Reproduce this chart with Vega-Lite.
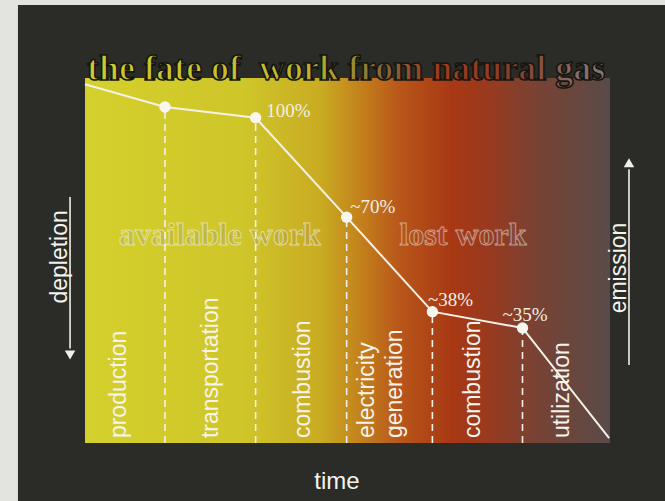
{
  "$schema": "https://vega.github.io/schema/vega-lite/v6.json",
  "width": 525,
  "height": 365,
  "autosize": "none",
  "padding": {"left": 85, "top": 78, "right": 55, "bottom": 58},
  "background": "#2b2b28",
  "config": {"view": {"stroke": null}},
  "datasets": {
    "work": [
      {"t": 0, "w": 110.1, "floor": 0, "node": false, "label": "", "lx": 0, "ly": 0},
      {"t": 0.914, "w": 103.1, "floor": 0, "node": true, "label": "", "lx": 0, "ly": 0},
      {"t": 1.95, "w": 99.8, "floor": 0, "node": true, "label": "100%", "lx": 2.07, "ly": 101.8},
      {"t": 2.99, "w": 69.3, "floor": 0, "node": true, "label": "~70%", "lx": 3.03, "ly": 72.4},
      {"t": 3.97, "w": 40.3, "floor": 0, "node": true, "label": "~38%", "lx": 3.92, "ly": 43.9},
      {"t": 5.0, "w": 35.3, "floor": 0, "node": true, "label": "~35%", "lx": 4.77, "ly": 39.3},
      {"t": 5.99, "w": 1.5, "floor": 0, "node": false, "label": "", "lx": 0, "ly": 0}
    ],
    "stages": [
      {"stage": "production", "lx": 0.389, "ly": 1.5},
      {"stage": "transportation", "lx": 1.44, "ly": 1.5},
      {"stage": "combustion", "lx": 2.49, "ly": 1.5},
      {"stage": "electricity", "lx": 3.22, "ly": 1.5},
      {"stage": "generation", "lx": 3.54, "ly": 1.5},
      {"stage": "combustion", "lx": 4.43, "ly": 1.5},
      {"stage": "utilization", "lx": 5.45, "ly": 1.5}
    ],
    "panels": [
      {"part": "scan", "x0": -1.2, "x1": -0.766, "y0": -30, "y1": 140},
      {"part": "scan", "x0": -1.2, "x1": 7, "y0": 134.4, "y1": 140},
      {"part": "plot", "x0": 0, "x1": 6, "y0": 0, "y1": 112}
    ],
    "notes": [
      {"note": "title", "text": "the fate of\u00a0 work from natural gas", "x": 0, "y": 112},
      {"note": "available", "text": "available work", "x": 1.543, "y": 60.7},
      {"note": "lost", "text": "lost work", "x": 4.32, "y": 60.7},
      {"note": "side", "text": "depletion", "x": -0.286, "y": 57.1},
      {"note": "side", "text": "emission", "x": 6.1, "y": 53.7},
      {"note": "time", "text": "time", "x": 2.88, "y": -14.1}
    ],
    "arrows": [
      {"arrow": "depletion", "x": -0.171, "y0": 75.5, "y1": 29, "head": 27.0, "dir": "down"},
      {"arrow": "emission", "x": 6.217, "y0": 23.9, "y1": 84, "head": 86.0, "dir": "up"}
    ]
  },
  "encoding": {
    "x": {"type": "quantitative", "scale": {"domain": [0, 6], "nice": false, "zero": false}, "axis": null},
    "y": {"type": "quantitative", "scale": {"domain": [0, 112], "nice": false, "zero": false}, "axis": null}
  },
  "layer": [
    {
      "data": {"name": "panels"},
      "transform": [{"filter": "datum.part == 'scan'"}],
      "mark": {"type": "rect", "fill": "#e3e3e0"},
      "encoding": {"x": {"field": "x0"}, "x2": {"field": "x1"}, "y": {"field": "y0"}, "y2": {"field": "y1"}}
    },
    {
      "data": {"name": "panels"},
      "transform": [{"filter": "datum.part == 'plot'"}],
      "mark": {"type": "rect", "fill": {"gradient": "linear", "x1": 0, "y1": 0, "x2": 1, "y2": 0, "stops": [
        {"offset": 0, "color": "#d4d02c"},
        {"offset": 0.3, "color": "#cfc62a"},
        {"offset": 0.45, "color": "#c9ab22"},
        {"offset": 0.53, "color": "#c37e1c"},
        {"offset": 0.6, "color": "#b8561a"},
        {"offset": 0.7, "color": "#a83814"},
        {"offset": 0.77, "color": "#983a1f"},
        {"offset": 0.86, "color": "#784234"},
        {"offset": 1, "color": "#5a4b48"}
      ]}},
      "encoding": {"x": {"field": "x0"}, "x2": {"field": "x1"}, "y": {"field": "y0"}, "y2": {"field": "y1"}}
    },
    {
      "data": {"name": "notes"},
      "transform": [{"filter": "datum.note == 'title'"}],
      "mark": {"type": "text", "font": "Liberation Serif", "fontWeight": "bold", "fontSize": 36, "align": "left", "baseline": "alphabetic", "dx": 2, "dy": 2,
        "stroke": "#16160f", "strokeWidth": 1.6,
        "fill": {"gradient": "linear", "x1": 0, "y1": 0, "x2": 1, "y2": 0, "stops": [
          {"offset": 0, "color": "#cfca30"},
          {"offset": 0.4, "color": "#c2bc2c"},
          {"offset": 0.49, "color": "#a89a2c"},
          {"offset": 0.57, "color": "#86683a"},
          {"offset": 0.68, "color": "#a03a1c"},
          {"offset": 0.83, "color": "#8a3e2c"},
          {"offset": 0.95, "color": "#857070"},
          {"offset": 1, "color": "#857474"}
        ]}},
      "encoding": {"x": {"field": "x"}, "y": {"field": "y"}, "text": {"field": "text"}}
    },
    {
      "data": {"name": "notes"},
      "transform": [{"filter": "datum.note == 'available'"}],
      "mark": {"type": "text", "font": "Liberation Serif", "fontWeight": "bold", "fontSize": 32, "align": "center", "baseline": "alphabetic",
        "stroke": "#f4f2e0", "strokeOpacity": 0.6, "strokeWidth": 1,
        "fill": {"gradient": "linear", "x1": 0, "y1": 0, "x2": 1, "y2": 0, "stops": [
          {"offset": 0, "color": "#c4c040"},
          {"offset": 0.6, "color": "#c0b63a"},
          {"offset": 1, "color": "#bca232"}
        ]}},
      "encoding": {"x": {"field": "x"}, "y": {"field": "y"}, "text": {"field": "text"}}
    },
    {
      "data": {"name": "notes"},
      "transform": [{"filter": "datum.note == 'lost'"}],
      "mark": {"type": "text", "font": "Liberation Serif", "fontWeight": "bold", "fontSize": 32, "align": "center", "baseline": "alphabetic",
        "stroke": "#f0e4d8", "strokeOpacity": 0.55, "strokeWidth": 1,
        "fill": {"gradient": "linear", "x1": 0, "y1": 0, "x2": 1, "y2": 0, "stops": [
          {"offset": 0, "color": "#b25a26"},
          {"offset": 0.4, "color": "#a4402a"},
          {"offset": 0.7, "color": "#94422c"},
          {"offset": 1, "color": "#7c4a3c"}
        ]}},
      "encoding": {"x": {"field": "x"}, "y": {"field": "y"}, "text": {"field": "text"}}
    },
    {
      "data": {"name": "work"},
      "transform": [{"filter": "datum.node"}],
      "mark": {"type": "rule", "color": "#f4f2e6", "strokeWidth": 1.6, "strokeDash": [7, 5]},
      "encoding": {"x": {"field": "t"}, "y": {"field": "floor"}, "y2": {"field": "w"}}
    },
    {
      "data": {"name": "work"},
      "mark": {"type": "line", "color": "#f4f2e6", "strokeWidth": 2},
      "encoding": {"x": {"field": "t"}, "y": {"field": "w"}}
    },
    {
      "data": {"name": "work"},
      "transform": [{"filter": "datum.node"}],
      "mark": {"type": "point", "filled": true, "color": "#f8f6ee", "opacity": 1, "size": 130},
      "encoding": {"x": {"field": "t"}, "y": {"field": "w"}}
    },
    {
      "data": {"name": "work"},
      "transform": [{"filter": "datum.label != ''"}],
      "mark": {"type": "text", "font": "Liberation Serif", "fontSize": 19, "align": "left", "baseline": "middle", "color": "#f2efe2"},
      "encoding": {"x": {"field": "lx"}, "y": {"field": "ly"}, "text": {"field": "label"}}
    },
    {
      "data": {"name": "stages"},
      "mark": {"type": "text", "font": "Liberation Sans", "fontSize": 23, "angle": 270, "align": "left", "baseline": "middle", "color": "#f6f4ec"},
      "encoding": {"x": {"field": "lx"}, "y": {"field": "ly"}, "text": {"field": "stage"}}
    },
    {
      "data": {"name": "arrows"},
      "mark": {"type": "rule", "color": "#f0f0ea", "strokeWidth": 1.6},
      "encoding": {"x": {"field": "x"}, "y": {"field": "y0"}, "y2": {"field": "y1"}}
    },
    {
      "data": {"name": "arrows"},
      "mark": {"type": "point", "filled": true, "color": "#f0f0ea", "opacity": 1, "size": 110},
      "encoding": {
        "x": {"field": "x"}, "y": {"field": "head"},
        "shape": {"field": "dir", "type": "nominal", "scale": {"domain": ["down", "up"], "range": ["triangle-down", "triangle-up"]}, "legend": null}
      }
    },
    {
      "data": {"name": "notes"},
      "transform": [{"filter": "datum.note == 'side'"}],
      "mark": {"type": "text", "font": "Liberation Sans", "fontSize": 23, "angle": 270, "align": "center", "baseline": "middle", "color": "#f4f4ee"},
      "encoding": {"x": {"field": "x"}, "y": {"field": "y"}, "text": {"field": "text"}}
    },
    {
      "data": {"name": "notes"},
      "transform": [{"filter": "datum.note == 'time'"}],
      "mark": {"type": "text", "font": "Liberation Sans", "fontSize": 24, "align": "center", "baseline": "alphabetic", "color": "#f4f4ee"},
      "encoding": {"x": {"field": "x"}, "y": {"field": "y"}, "text": {"field": "text"}}
    }
  ]
}
